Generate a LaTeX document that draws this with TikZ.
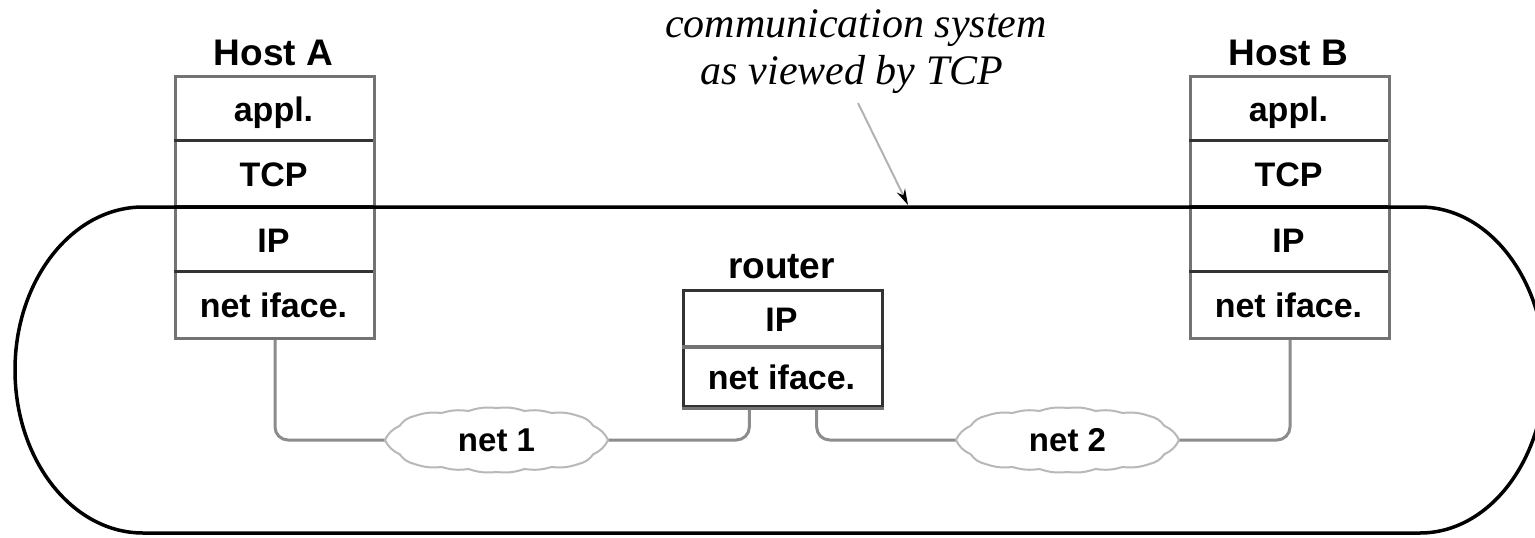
\documentclass[tikz,border=0pt]{standalone}
\usepackage{fontspec}
\setmainfont{Liberation Serif}
\newfontfamily\labelsans{Liberation Sans}
\usetikzlibrary{arrows.meta,calc}

\definecolor{boxline}{gray}{0.45}
\definecolor{rowline}{gray}{0.2}
\definecolor{wireline}{gray}{0.55}
\definecolor{cloudline}{gray}{0.72}

\pgfdeclarelayer{wires}
\pgfsetlayers{wires,main}

\tikzset{
  pics/netcloud/.style={code={
    \draw[netcloud] (-111.5,0)
      to[bend left=20] (-97,14) to[bend left=20] (-82,24)
      to[bend left=12] (-55,27) to[bend left=12] (-28,29)
      to[bend left=12] (0,32)   to[bend left=12] (28,29)
      to[bend left=12] (55,27)  to[bend left=12] (82,24)
      to[bend left=20] (97,14)  to[bend left=20] (111.5,0)
      to[bend left=20] (97,-14) to[bend left=20] (82,-24)
      to[bend left=12] (55,-27) to[bend left=12] (28,-29)
      to[bend left=12] (0,-32)  to[bend left=12] (-28,-29)
      to[bend left=12] (-55,-27) to[bend left=12] (-82,-24)
      to[bend left=20] (-97,-14) to[bend left=20] cycle;
  }}
}

\begin{document}
\begin{tikzpicture}[x=1pt,y=1pt,
  title/.style={font=\labelsans\bfseries\fontsize{37}{40}\selectfont, inner sep=0, anchor=base},
  cell/.style={font=\labelsans\bfseries\fontsize{34}{38}\selectfont, inner sep=0, anchor=base},
  stackbox/.style={draw=boxline, line width=3pt, fill=white, inner sep=0,
    anchor=north west, minimum width=199pt},
  rowsep/.style={draw=rowline, line width=2.5pt},
  wire/.style={draw=wireline, line width=3pt, rounded corners=13pt},
  netcloud/.style={draw=cloudline, line width=2pt, fill=white},
  netlabel/.style={font=\labelsans\bfseries\fontsize{33}{36}\selectfont, inner sep=0,
    minimum width=223pt, minimum height=64pt},
  frame/.style={draw=black, line width=3.5pt},
  remark/.style={font=\itshape\fontsize{42}{47}\selectfont, inner sep=0, anchor=base},
  pointer/.style={draw=gray!60, line width=2pt,
    -{Stealth[length=16pt,width=9pt,color=black]}}
]
\clip (0,0) rectangle (1535,-538);

% protocol stacks
\node[stackbox, minimum height=262pt] (hostA) at (174,-75) {};
\node[stackbox, minimum height=262pt] (hostB) at (1189,-75) {};
\node[stackbox, draw=rowline, minimum height=116pt] (router) at (682,-289) {};

\foreach \h in {hostA,hostB}{
  \draw[rowsep] ($(\h.north west)+(0,-65.5)$) -- ++(199,0);
  \draw[rowsep] ($(\h.north west)+(0,-131)$) -- ++(199,0);
  \draw[rowsep] ($(\h.north west)+(0,-196.5)$) -- ++(199,0);
}
\draw[draw=boxline, line width=3.5pt] ($(router.north west)+(0,-58)$) -- ++(199,0);
\draw[draw=boxline, line width=3pt] (router.south west) -- (router.south east);

% the communication system seen by TCP
\draw[frame] (143,-207) -- (1420,-207)
  arc[start angle=90, end angle=-90, x radius=125, y radius=163]
  -- (143,-533)
  arc[start angle=270, end angle=90, x radius=128, y radius=163] -- cycle;

% stack labels
\node[title] (hostAname) at (273.5,-65) {Host A};
\node[cell] (hAappl) at (273.5,-121) {appl.};
\node[cell] (hAtcp)  at (273.5,-186) {TCP};
\node[cell] (hAip)   at (273.5,-252) {IP};
\node[cell] (hAnet)  at (273.5,-317) {net iface.};

\node[title] (hostBname) at (1288.5,-65) {Host B};
\node[cell] (hBappl) at (1288.5,-121) {appl.};
\node[cell] (hBtcp)  at (1288.5,-186) {TCP};
\node[cell] (hBip)   at (1288.5,-252) {IP};
\node[cell] (hBnet)  at (1288.5,-317) {net iface.};

\node[title] (routername) at (781.5,-278) {router};
\node[cell] (rip)  at (781.5,-331) {IP};
\node[cell] (rnet) at (781.5,-389) {net iface.};

% networks
\pic at (496.5,-440) {netcloud};
\pic at (1067.5,-440) {netcloud};
\node[netlabel] (net1) at (496.5,-440) {net 1};
\node[netlabel] (net2) at (1067.5,-440) {net 2};

% attachments
\coordinate (rtL) at ($(router.south west)!1/3!(router.south east)$);
\coordinate (rtR) at ($(router.south west)!2/3!(router.south east)$);
\begin{pgfonlayer}{wires}
  \draw[wire] (hostA.south) |- (net1.west);
  \draw[wire] (rtL) |- (net1.east);
  \draw[wire] (rtR) |- (net2.west);
  \draw[wire] (hostB.south) |- (net2.east);
\end{pgfonlayer}

% remark with pointer
\node[remark] (remark1) at (856,-37) {communication system};
\node[remark] (remark2) at (852,-84) {as viewed by TCP};
\coordinate (remarkfoot) at (858,-103);
\coordinate (tcpline) at (908,-205);
\draw[pointer] (remarkfoot) -- (tcpline);
\end{tikzpicture}
\end{document}
